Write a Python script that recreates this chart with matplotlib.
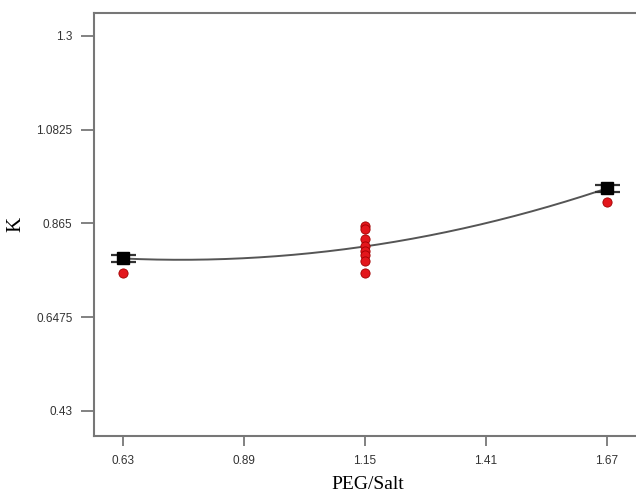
import matplotlib
matplotlib.use("Agg")
import matplotlib.pyplot as plt
import numpy as np

# design points and predicted K (black squares)
design_x = [0.63, 1.15, 1.67]
pred_k = [0.7837, 0.8116, 0.9463]
pred_err = [0.008, 0.0, 0.008]

# observed runs (red dots)
obs_x = [0.63, 1.15, 1.15, 1.15, 1.15, 1.15, 1.15, 1.15, 1.15, 1.67]
obs_k = [0.749, 0.860, 0.851, 0.830, 0.812, 0.802, 0.791, 0.779, 0.749, 0.914]

xticks = [0.63, 0.89, 1.15, 1.41, 1.67]
yticks = [0.43, 0.6475, 0.865, 1.0825, 1.3]
ytick_labels = ['0.43', '0.6475', '0.865', '1.0825', '1.3']

fig = plt.figure(figsize=(6.36, 4.96), dpi=100)
ax = fig.add_axes([94/636, 60/496, (660-94)/636, (436-13)/496])

# quadratic model through the predicted values
coef = np.polyfit(design_x, pred_k, 2)
xs = np.linspace(design_x[0], design_x[-1], 200)
ax.plot(xs, np.polyval(coef, xs), color='#555555', lw=1.4, zorder=2)

ax.scatter(obs_x, obs_k, s=44, color='#e3161c', edgecolor='#a00000',
           linewidth=0.6, zorder=3)

ends = [0, 2]
ax.errorbar([design_x[i] for i in ends], [pred_k[i] for i in ends],
            yerr=[pred_err[i] for i in ends], fmt='s', color='black',
            markersize=8, ecolor='#333333', elinewidth=1.4, capsize=9,
            capthick=1.6, zorder=4)

ax.set_xlim(0.568, 1.784)
ax.set_ylim(0.372, 1.353)
ax.set_xticks(xticks)
ax.set_xticklabels([str(t) for t in xticks])
ax.set_yticks(yticks)
ax.set_yticklabels(ytick_labels)

for s in ax.spines.values():
    s.set_color('#777777')
    s.set_linewidth(1.5)

ax.tick_params(axis='y', length=9.5, width=1.3, color='#777777', pad=6,
               labelsize=8.5, labelcolor='#333333')
ax.tick_params(axis='x', length=7, width=1.3, color='#777777', pad=7,
               labelsize=8.5, labelcolor='#333333')
for lab in ax.get_xticklabels() + ax.get_yticklabels():
    lab.set_family('Liberation Sans')

ax.set_xlabel('PEG/Salt', family='Liberation Serif', fontsize=14, labelpad=7)
ax.xaxis.set_label_coords(0.484, -0.095)
ax.set_ylabel('K', family='Liberation Serif', fontsize=15, labelpad=8)

fig.savefig('out.png', dpi=100)
